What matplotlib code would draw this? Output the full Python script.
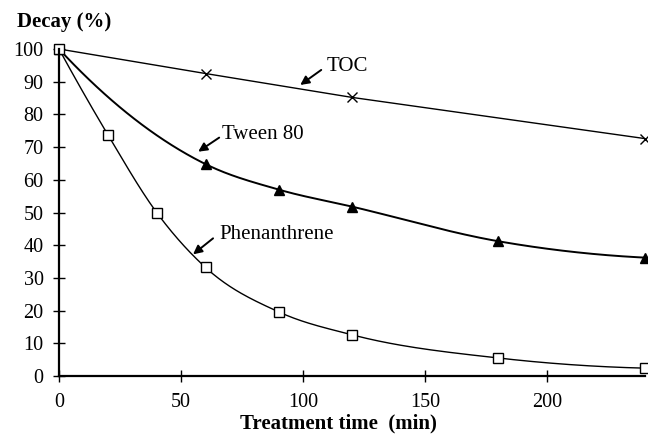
import numpy as np
import matplotlib
matplotlib.use('Agg')
import matplotlib.pyplot as plt

# data
toc_time = [0, 60, 120, 240]
toc_decay = [100, 92.5, 85.2, 72.6]

tween_time = [0, 60, 90, 120, 180, 240]
tween_decay = [100, 64.8, 57.0, 51.8, 41.2, 36.2]

phen_time = [0, 20, 40, 60, 90, 120, 180, 240]
phen_decay = [100, 73.8, 50.0, 33.2, 19.6, 12.6, 5.5, 2.4]

x_ticks = [0, 50, 100, 150, 200]
y_ticks = [0, 10, 20, 30, 40, 50, 60, 70, 80, 90, 100]


def smooth(xs, ys, n=40):
    # smoothed line through the points: cubic Hermite pieces,
    # slopes taken from the parabola through neighbouring points
    px = np.array(xs, dtype=float)
    py = np.array(ys, dtype=float)
    h = np.diff(px)
    d = np.diff(py) / h
    m = np.zeros(len(px))
    for i in range(1, len(px) - 1):
        m[i] = (h[i - 1] * d[i] + h[i] * d[i - 1]) / (h[i - 1] + h[i])
    m[0] = ((2 * h[0] + h[1]) * d[0] - h[0] * d[1]) / (h[0] + h[1])
    m[-1] = ((2 * h[-1] + h[-2]) * d[-1] - h[-1] * d[-2]) / (h[-1] + h[-2])

    out_x, out_y = [px[0]], [py[0]]
    s = np.linspace(0, 1, n)[1:]
    for i in range(len(px) - 1):
        h00 = 2 * s ** 3 - 3 * s ** 2 + 1
        h10 = s ** 3 - 2 * s ** 2 + s
        h01 = -2 * s ** 3 + 3 * s ** 2
        h11 = s ** 3 - s ** 2
        yy = h00 * py[i] + h10 * h[i] * m[i] + h01 * py[i + 1] + h11 * h[i] * m[i + 1]
        out_x.extend(px[i] + s * h[i])
        out_y.extend(yy)
    return out_x, out_y


plt.rcParams['font.family'] = ['Liberation Serif', 'DejaVu Serif']

fig = plt.figure(figsize=(6.48, 4.34), dpi=100)
ax = fig.add_axes([59 / 648, 58 / 434, 586 / 648, 327 / 434])

# lines
ax.plot(toc_time, toc_decay, color='black', lw=1.0)
sx, sy = smooth(tween_time, tween_decay)
ax.plot(sx, sy, color='black', lw=1.4)
sx, sy = smooth(phen_time, phen_decay)
ax.plot(sx, sy, color='black', lw=1.0)

# markers
ax.plot(toc_time, toc_decay, 'x', color='black', ms=7, mew=1.0, clip_on=False)
ax.plot(tween_time, tween_decay, '^', color='black', ms=7.5, clip_on=False)
ax.plot(phen_time, phen_decay, 's', mfc='white', mec='black', ms=7.5,
        mew=1.0, clip_on=False)

ax.set_xlim(0, 240)
ax.set_ylim(0, 100)
ax.set_xticks(x_ticks)
ax.set_yticks(y_ticks)

for side in ['top', 'right']:
    ax.spines[side].set_visible(False)
for side in ['left', 'bottom']:
    ax.spines[side].set_linewidth(1.6)
ax.tick_params(axis='both', direction='inout', length=8, width=1.0,
               labelsize=14.5)
ax.tick_params(axis='x', pad=8)
ax.tick_params(axis='y', pad=7)

# arrows with labels
arrow = dict(arrowstyle='-|>', color='black', lw=1.4, mutation_scale=13,
             shrinkA=0, shrinkB=0)
ax.annotate('', xy=(98.8, 89.0), xytext=(107.4, 93.6), arrowprops=arrow)
ax.text(109.8, 94.5, 'TOC', fontsize=15, va='center', ha='left')
ax.annotate('', xy=(57.0, 68.6), xytext=(65.6, 72.9), arrowprops=arrow)
ax.text(66.8, 73.8, 'Tween 80', fontsize=15, va='center', ha='left')
ax.annotate('', xy=(54.9, 37.2), xytext=(63.1, 42.1), arrowprops=arrow)
ax.text(65.6, 43.3, 'Phenanthrene', fontsize=15, va='center', ha='left')

# axis titles
fig.text(17 / 648, 1 - 22 / 434, 'Decay (%)', fontsize=15,
         fontweight='bold', ha='left', va='center')
fig.text(338 / 648, 1 - 423 / 434, 'Treatment time  (min)', fontsize=15,
         fontweight='bold', ha='center', va='center')

fig.savefig('out.png', dpi=100)
